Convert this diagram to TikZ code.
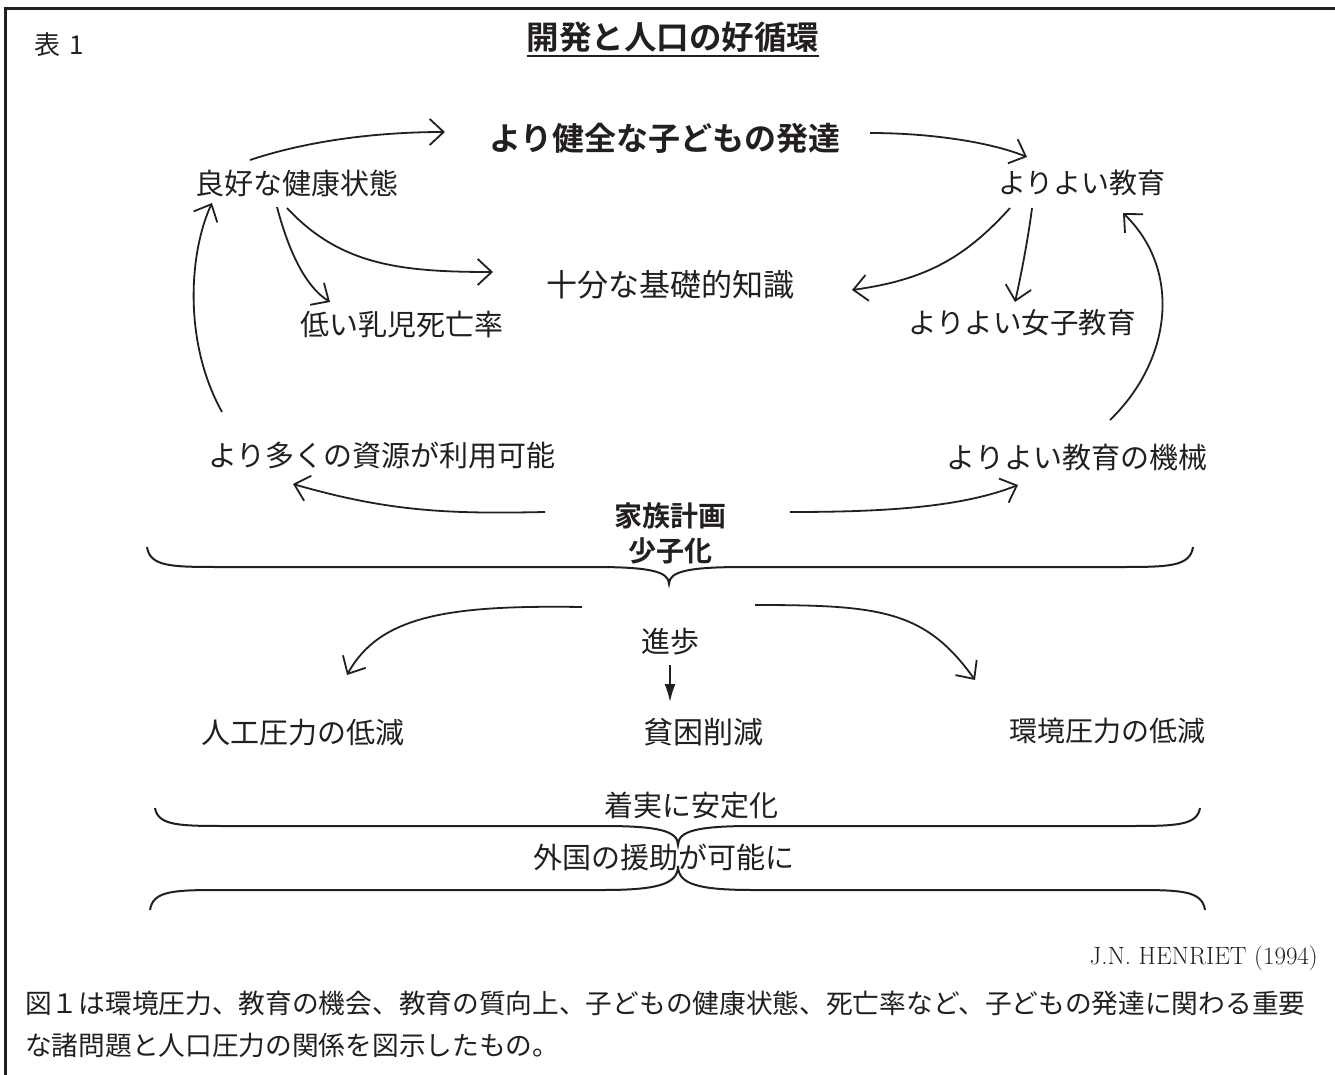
\documentclass[tikz,border=0pt]{standalone}
\usepackage{fontspec}
\newfontfamily\jp{Noto Sans CJK JP}[BoldFont={Noto Sans CJK JP Bold}]
\usetikzlibrary{arrows.meta,calc}
\definecolor{ink}{RGB}{35,31,32}
\tikzset{
  txt/.style={font=\jp\fontsize{29}{34}\selectfont, inner sep=0pt, text=ink},
  btxt/.style={font=\jp\bfseries\fontsize{#1}{#1}\selectfont, inner sep=0pt, text=ink},
  arr/.style={draw=ink, line width=1.8pt, -{Straight Barb[length=14pt,width=26pt,line width=1.8pt]}},
  farr/.style={draw=ink, line width=1.8pt, -{Latex[length=18pt,width=11pt]}},
  brc/.style={draw=ink, line width=2pt},
}
\newcommand{\hbrace}[6]{%
  % #1 left x, #2 right x, #3 end y, #4 line y, #5 tip x, #6 tip y
  \draw[brc] (#1,#3) .. controls (#1+3,#4) and (#1+25,#4) .. (#1+75,#4)
    -- (#5-75,#4) .. controls (#5-20,#4) and (#5,#4+0.25*#6-0.25*#4) .. (#5,#6)
    .. controls (#5,#4+0.25*#6-0.25*#4) and (#5+20,#4) .. (#5+75,#4)
    -- (#2-75,#4) .. controls (#2-25,#4) and (#2-3,#4) .. (#2,#3);}
\begin{document}
\begin{tikzpicture}[x=1pt,y=-1pt]
\useasboundingbox (0,0) rectangle (1335,1075);
\fill[white] (0,0) rectangle (1335,1075);
% frame
\draw[ink, line width=2.6pt] (5.5,1075) -- (5.5,8.5) -- (1335,8.5);

% texts
\node[txt, font=\jp\fontsize{26}{30}\selectfont, anchor=west] (hyo) at (34,45) {表\hspace{9pt}1};
\node[btxt=32.5] (title) at (673,37) {開発と人口の好循環};
\draw[ink, line width=2pt] ($(title.west)+(0,19)$) -- ($(title.east)+(0,19)$);

\node[btxt=32] (kenzen) at (665,138) {より健全な子どもの発達};
\node[txt] (ryoko) at (297,183) {良好な健康状態};
\node[txt, font=\jp\fontsize{28}{32}\selectfont] (kyoiku) at (1082,183) {よりよい教育};
\node[txt, font=\jp\fontsize{31}{36}\selectfont] (chishiki) at (670,285) {十分な基礎的知識};
\node[txt] (nyuji) at (402,325) {低い乳児死亡率};
\node[txt, font=\jp\fontsize{28.5}{32}\selectfont] (joshi) at (1022,323) {よりよい女子教育};
\node[txt] (shigen) at (382,455) {より多くの資源が利用可能};
\node[txt] (kikai) at (1077,458) {よりよい教育の機械};
\node[btxt=28] (kazoku) at (670,516) {家族計画};
\node[btxt=28] (shoshi) at (670,551) {少子化};
\node[txt] (shinpo) at (670,642) {進歩};
\node[txt] (jinko) at (303,733) {人工圧力の低減};
\node[txt, font=\jp\fontsize{30}{34}\selectfont] (hinkon) at (703,732) {貧困削減};
\node[txt, font=\jp\fontsize{28}{32}\selectfont] (kankyo) at (1107,731) {環境圧力の低減};
\node[txt] (antei) at (691,806) {着実に安定化};
\node[txt] (enjo) at (664,857) {外国の援助が可能に};
\node[inner sep=0pt, text=ink, anchor=east, font=\fontsize{25}{30}\selectfont] (henriet) at (1318,958) {J.N.\ HENRIET (1994)};
\node[txt, font=\jp\fontsize{26.7}{32}\selectfont, anchor=west] (note1) at (25,1003) {図１は環境圧力、教育の機会、教育の質向上、子どもの健康状態、死亡率など、子どもの発達に関わる重要};
\node[txt, font=\jp\fontsize{26.7}{32}\selectfont, anchor=west] (note2) at (25,1045) {な諸問題と人口圧力の関係を図示したもの。};

% arrows
\draw[arr] ($(ryoko)+(-47,-23)$) .. controls (310,140) and (380,132) .. ($(kenzen)+(-220,-6)$);
\draw[arr] ($(kenzen)+(205,-5)$) .. controls (930,133) and (990,142) .. ($(kyoiku)+(-55,-26)$);
\draw[arr] ($(ryoko)+(-20,24)$) .. controls (287,245) and (303,285) .. ($(nyuji)+(-72,-23)$);
\draw[arr] ($(ryoko)+(-10,25)$) .. controls (340,265) and (400,272) .. ($(chishiki)+(-177,-13)$);
\draw[arr] ($(kyoiku)+(-72,25)$) .. controls (965,258) and (925,280) .. ($(chishiki)+(182,5)$);
\draw[arr] ($(kyoiku)+(-50,25)$) .. controls (1028,240) and (1020,280) .. ($(joshi)+(-7,-21)$);
\draw[arr] ($(kikai)+(33,-38)$) .. controls (1172,360) and (1182,270) .. ($(kyoiku)+(41,30)$);
\draw[arr] ($(shigen)+(-160,-43)$) .. controls (182,340) and (190,250) .. ($(ryoko)+(-85,20)$);
\draw[arr] ($(kazoku)+(-125,-4)$) .. controls (450,514) and (390,512) .. ($(shigen)+(-89,29)$);
\draw[arr] ($(kazoku)+(120,-4)$) .. controls (880,512) and (960,508) .. ($(kikai)+(-59,27)$);
\draw[arr] ($(shinpo)+(-88,-35)$) .. controls (450,605) and (380,615) .. ($(jinko)+(44,-58)$);
\draw[arr] ($(shinpo)+(85,-37)$) .. controls (880,605) and (925,610) .. ($(kankyo)+(-132,-51)$);
\draw[farr] ($(shinpo)+(0,23)$) -- ($(hinkon)+(-33,-30)$);

% braces
\hbrace{147}{1193}{547}{567}{669}{584}
\hbrace{155}{1200}{808}{826}{678}{845}
\hbrace{150}{1205}{910}{890}{678}{866}
\end{tikzpicture}
\end{document}
